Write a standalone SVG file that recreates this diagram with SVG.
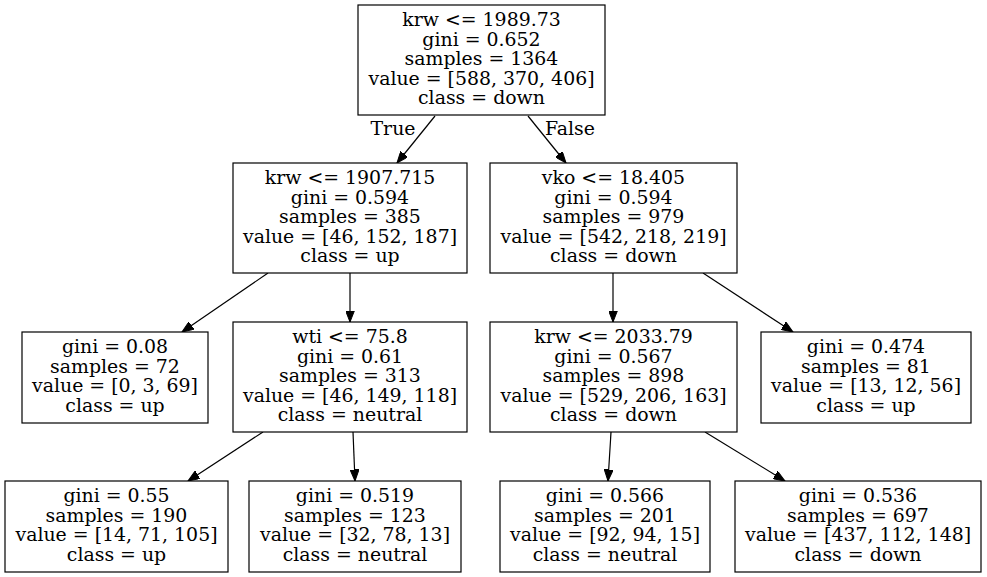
<svg xmlns="http://www.w3.org/2000/svg" width="987" height="577" viewBox="0 0 987 577">
<style>
.box{fill:#fff;stroke:#000;stroke-width:1.2}
text{font-family:"DejaVu Serif",serif;font-size:18.9px;text-anchor:middle;fill:#000}
.edge{stroke:#000;stroke-width:1.2;fill:none;marker-end:url(#ah)}
</style>
<defs>
<marker id="ah" markerUnits="userSpaceOnUse" markerWidth="12" markerHeight="9" refX="11.5" refY="4.5" orient="auto">
<path d="M0,0 L11.5,4.5 L0,9 z" fill="#000" stroke="#000" stroke-width="1"/>
</marker>
</defs>
<rect width="987" height="577" fill="#fff"/>
<g id="connectors">
<line class="edge" x1="435" y1="116" x2="397" y2="163"/>
<line class="edge" x1="528" y1="116" x2="566" y2="163"/>
<line class="edge" x1="268" y1="273" x2="182" y2="332"/>
<line class="edge" x1="350" y1="273" x2="350" y2="322"/>
<line class="edge" x1="613" y1="273" x2="613" y2="322"/>
<line class="edge" x1="703" y1="273" x2="793" y2="332"/>
<line class="edge" x1="263" y1="432" x2="188" y2="481"/>
<line class="edge" x1="353" y1="432" x2="355" y2="481"/>
<line class="edge" x1="611" y1="432" x2="608" y2="481"/>
<line class="edge" x1="705" y1="432" x2="785" y2="481"/>
<text x="393" y="135">True</text>
<text x="570" y="135">False</text>
</g>
<g id="n0">
<rect class="box" x="358" y="5" width="247" height="110"/>
<text x="481.5" y="26">krw &lt;= 1989.73</text>
<text x="481.5" y="45.5">gini = 0.652</text>
<text x="481.5" y="65">samples = 1364</text>
<text x="481.5" y="84.5">value = [588, 370, 406]</text>
<text x="481.5" y="104">class = down</text>
</g>
<g id="n1">
<rect class="box" x="233" y="163" width="234" height="110"/>
<text x="350" y="184">krw &lt;= 1907.715</text>
<text x="350" y="203.5">gini = 0.594</text>
<text x="350" y="223">samples = 385</text>
<text x="350" y="242.5">value = [46, 152, 187]</text>
<text x="350" y="262">class = up</text>
</g>
<g id="n2">
<rect class="box" x="490" y="163" width="247" height="110"/>
<text x="613.5" y="184">vko &lt;= 18.405</text>
<text x="613.5" y="203.5">gini = 0.594</text>
<text x="613.5" y="223">samples = 979</text>
<text x="613.5" y="242.5">value = [542, 218, 219]</text>
<text x="613.5" y="262">class = down</text>
</g>
<g id="n3">
<rect class="box" x="22" y="332" width="186" height="91"/>
<text x="115" y="353.25">gini = 0.08</text>
<text x="115" y="372.75">samples = 72</text>
<text x="115" y="392.25">value = [0, 3, 69]</text>
<text x="115" y="411.75">class = up</text>
</g>
<g id="n4">
<rect class="box" x="233" y="322" width="234" height="110"/>
<text x="350" y="343">wti &lt;= 75.8</text>
<text x="350" y="362.5">gini = 0.61</text>
<text x="350" y="382">samples = 313</text>
<text x="350" y="401.5">value = [46, 149, 118]</text>
<text x="350" y="421">class = neutral</text>
</g>
<g id="n5">
<rect class="box" x="490" y="322" width="247" height="110"/>
<text x="613.5" y="343">krw &lt;= 2033.79</text>
<text x="613.5" y="362.5">gini = 0.567</text>
<text x="613.5" y="382">samples = 898</text>
<text x="613.5" y="401.5">value = [529, 206, 163]</text>
<text x="613.5" y="421">class = down</text>
</g>
<g id="n6">
<rect class="box" x="761" y="332" width="210" height="91"/>
<text x="866" y="353.25">gini = 0.474</text>
<text x="866" y="372.75">samples = 81</text>
<text x="866" y="392.25">value = [13, 12, 56]</text>
<text x="866" y="411.75">class = up</text>
</g>
<g id="n7">
<rect class="box" x="5" y="481" width="223" height="91"/>
<text x="116.5" y="502.25">gini = 0.55</text>
<text x="116.5" y="521.75">samples = 190</text>
<text x="116.5" y="541.25">value = [14, 71, 105]</text>
<text x="116.5" y="560.75">class = up</text>
</g>
<g id="n8">
<rect class="box" x="249" y="481" width="212" height="91"/>
<text x="355" y="502.25">gini = 0.519</text>
<text x="355" y="521.75">samples = 123</text>
<text x="355" y="541.25">value = [32, 78, 13]</text>
<text x="355" y="560.75">class = neutral</text>
</g>
<g id="n9">
<rect class="box" x="500" y="481" width="210" height="91"/>
<text x="605" y="502.25">gini = 0.566</text>
<text x="605" y="521.75">samples = 201</text>
<text x="605" y="541.25">value = [92, 94, 15]</text>
<text x="605" y="560.75">class = neutral</text>
</g>
<g id="n10">
<rect class="box" x="735" y="481" width="246" height="91"/>
<text x="858" y="502.25">gini = 0.536</text>
<text x="858" y="521.75">samples = 697</text>
<text x="858" y="541.25">value = [437, 112, 148]</text>
<text x="858" y="560.75">class = down</text>
</g>
</svg>
